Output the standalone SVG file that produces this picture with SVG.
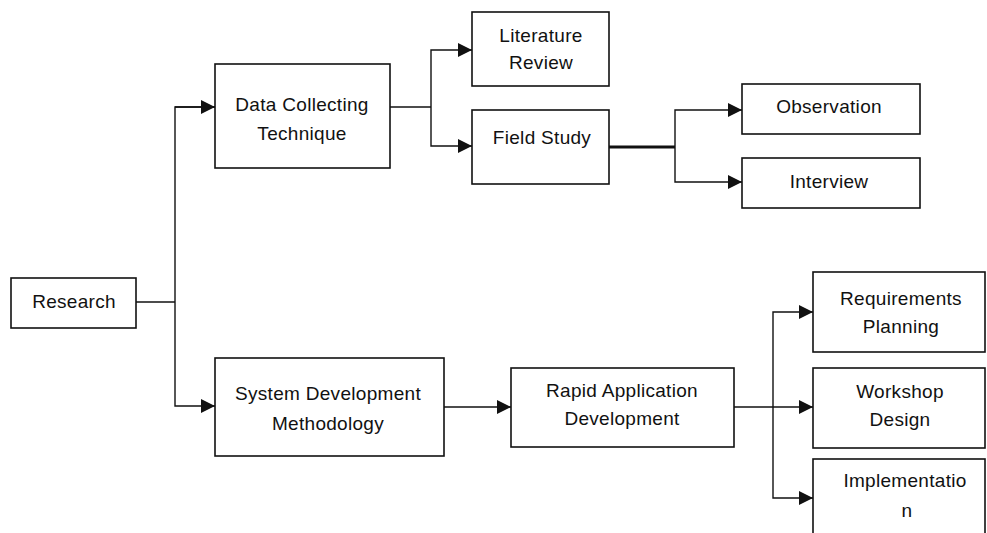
<svg xmlns="http://www.w3.org/2000/svg" width="987" height="533" viewBox="0 0 987 533">
<style>
.box{fill:#fff;stroke:#111;stroke-width:1.6}
.lbl{font-family:"Liberation Sans",Arial,sans-serif;font-size:19px;letter-spacing:0.3px;fill:#111;text-anchor:middle}
.con{fill:none;stroke:#111;stroke-width:1.4}
.thick{fill:none;stroke:#111;stroke-width:2.8}
</style>
<defs>
<marker id="ah" markerUnits="userSpaceOnUse" markerWidth="15" markerHeight="14" refX="14" refY="7" orient="auto">
<path d="M0,0 L14,7 L0,14 z" fill="#111"/>
</marker>
</defs>
<rect width="987" height="533" fill="#fff"/>
<g id="connectors">
<path class="con" d="M136,302 H175"/>
<path class="con" d="M215,107 H175 V406 H215" marker-end="url(#ah)"/>
<path class="con" d="M175,107 H215" marker-end="url(#ah)"/>
<path class="con" d="M390,107 H431"/>
<path class="con" d="M431,107 V50 H472" marker-end="url(#ah)"/>
<path class="con" d="M431,107 V146 H472" marker-end="url(#ah)"/>
<path class="thick" d="M609,147 H675"/>
<path class="con" d="M675,147 V110 H742" marker-end="url(#ah)"/>
<path class="con" d="M675,147 V182 H742" marker-end="url(#ah)"/>
<path class="con" d="M444,407 H511" marker-end="url(#ah)"/>
<path class="con" d="M734,407 H813" marker-end="url(#ah)"/>
<path class="con" d="M773,407 V312 H813" marker-end="url(#ah)"/>
<path class="con" d="M773,407 V498 H813" marker-end="url(#ah)"/>
</g>
<g id="research">
<rect class="box" x="11" y="278" width="125" height="50"/>
<text class="lbl" x="74" y="308">Research</text>
</g>
<g id="data-collecting">
<rect class="box" x="215" y="64" width="175" height="104"/>
<text class="lbl" x="302" y="111">Data Collecting</text>
<text class="lbl" x="302" y="140">Technique</text>
</g>
<g id="literature-review">
<rect class="box" x="472" y="12" width="137" height="74"/>
<text class="lbl" x="541" y="42">Literature</text>
<text class="lbl" x="541" y="69">Review</text>
</g>
<g id="field-study">
<rect class="box" x="472" y="110" width="137" height="74"/>
<text class="lbl" x="542" y="144">Field Study</text>
</g>
<g id="observation">
<rect class="box" x="742" y="84" width="178" height="50"/>
<text class="lbl" x="829" y="113">Observation</text>
</g>
<g id="interview">
<rect class="box" x="742" y="158" width="178" height="50"/>
<text class="lbl" x="829" y="188">Interview</text>
</g>
<g id="system-development">
<rect class="box" x="215" y="358" width="229" height="98"/>
<text class="lbl" x="328" y="400">System Development</text>
<text class="lbl" x="328" y="430">Methodology</text>
</g>
<g id="rapid-application">
<rect class="box" x="511" y="368" width="223" height="79"/>
<text class="lbl" x="622" y="397">Rapid Application</text>
<text class="lbl" x="622" y="425">Development</text>
</g>
<g id="requirements-planning">
<rect class="box" x="813" y="272" width="172" height="80"/>
<text class="lbl" x="901" y="305">Requirements</text>
<text class="lbl" x="901" y="333">Planning</text>
</g>
<g id="workshop-design">
<rect class="box" x="813" y="368" width="172" height="80"/>
<text class="lbl" x="900" y="398">Workshop</text>
<text class="lbl" x="900" y="426">Design</text>
</g>
<g id="implementation">
<rect class="box" x="813" y="459" width="172" height="90"/>
<text class="lbl" x="905" y="487">Implementatio</text>
<text class="lbl" x="907" y="517">n</text>
</g>
</svg>
